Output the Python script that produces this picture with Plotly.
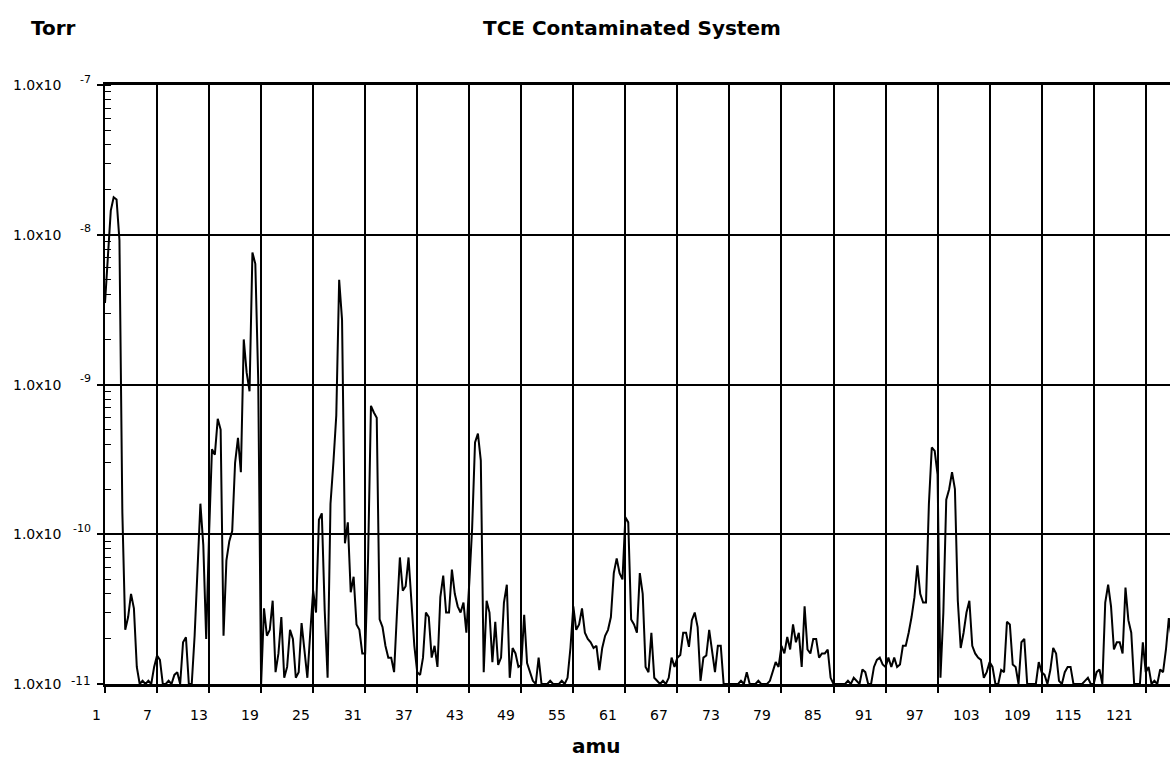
import numpy as np
import plotly.graph_objects as go

# Partial-pressure scan of a TCE contaminated vacuum system.
# Three readings per amu (at m, m+1/3, m+2/3), stored in units of 1e-11 Torr.
UNIT_TORR = 1e-11

scan_amu_01_20 = [
    350, 700, 1450,   1780, 1720, 920,   14, 2.3, 2.8,    4.0, 3.2, 1.3,
    1.0, 1.05, 1.0,   1.05, 1.0, 1.3,    1.55, 1.45, 1.0, 1.0, 1.05, 1.0,
    1.15, 1.2, 1.0,   1.9, 2.05, 1.0,    1.0, 2.1, 6.5,   16, 8.5, 2.0,
    10, 37, 34,       59, 50, 2.1,       6.7, 9.0, 10.5,  30, 44, 26,
    200, 120, 90,     760, 640, 107,     1.0, 3.2, 2.1,   2.3, 3.6, 1.2,
]
scan_amu_21_40 = [
    1.6, 2.8, 1.1,    1.3, 2.3, 2.0,     1.1, 1.2, 2.55,  1.6, 1.1, 2.2,
    4.2, 3.0, 12.5,   13.8, 3.1, 1.1,    16, 30, 62,      500, 270, 8.7,
    12, 4.1, 5.2,     2.5, 2.3, 1.6,     1.6, 6.9, 72,    65, 60, 2.7,
    2.4, 1.8, 1.5,    1.5, 1.2, 3.0,     7.0, 4.2, 4.5,   7.0, 3.3, 1.8,
    1.2, 1.15, 1.5,   3.0, 2.8, 1.5,     1.8, 1.3, 3.8,   5.3, 3.0, 3.0,
]
scan_amu_41_60 = [
    5.8, 4.0, 3.3,    3.0, 3.5, 2.2,     4.7, 11, 41,     47, 31, 1.2,
    3.6, 3.0, 1.4,    2.6, 1.34, 1.5,    3.5, 4.6, 1.1,   1.74, 1.6, 1.3,
    1.34, 2.9, 1.38,  1.2, 1.05, 1.0,    1.5, 1.0, 1.0,   1.0, 1.05, 1.0,
    1.0, 1.0, 1.05,   1.0, 1.1, 1.74,    3.3, 2.3, 2.5,   3.2, 2.2, 2.0,
    1.9, 1.74, 1.8,   1.24, 1.74, 2.1,   2.3, 2.8, 5.5,   6.9, 5.5, 5.0,
]
scan_amu_61_80 = [
    13, 12, 2.7,      2.5, 2.2, 5.5,     4.0, 1.3, 1.2,   2.2, 1.1, 1.05,
    1.0, 1.05, 1.0,   1.1, 1.5, 1.3,     1.5, 1.56, 2.2,  2.2, 1.77, 2.67,
    3.0, 2.4, 1.05,   1.5, 1.55, 2.3,    1.7, 1.2, 1.8,   1.8, 1.0, 1.0,
    1.0, 1.0, 1.0,    1.0, 1.05, 1.0,    1.2, 1.0, 1.0,   1.0, 1.05, 1.0,
    1.0, 1.0, 1.05,   1.2, 1.4, 1.3,     1.8, 1.6, 2.06,  1.7, 2.5, 1.9,
]
scan_amu_81_100 = [
    2.2, 1.3, 3.3,    1.7, 1.6, 2.0,     2.0, 1.5, 1.6,   1.6, 1.7, 1.1,
    1.0, 1.0, 1.0,    1.0, 1.0, 1.05,    1.0, 1.1, 1.05,  1.0, 1.25, 1.2,
    1.0, 1.0, 1.3,    1.45, 1.5, 1.35,   1.3, 1.5, 1.3,   1.5, 1.3, 1.35,
    1.8, 1.8, 2.2,    2.8, 3.8, 6.2,     4.0, 3.5, 3.5,   16, 38, 36,
    25, 1.1, 3.0,     17, 20, 26,        20, 3.6, 1.74,   2.2, 3.0, 3.6,
]
scan_amu_101_124 = [
    1.8, 1.6, 1.5,    1.45, 1.1, 1.2,    1.4, 1.3, 1.0,   1.0, 1.24, 1.2,
    2.6, 2.5, 1.35,   1.3, 1.0, 1.9,     2.0, 1.0, 1.0,   1.0, 1.0, 1.4,
    1.2, 1.15, 1.0,   1.24, 1.74, 1.6,   1.05, 1.0, 1.2,  1.3, 1.3, 1.0,
    1.0, 1.0, 1.0,    1.05, 1.1, 1.0,    1.0, 1.2, 1.25,  1.0, 3.5, 4.6,
    3.3, 1.7, 1.9,    1.9, 1.6, 4.4,     2.67, 2.2, 1.0,  1.0, 1.0, 1.9,
    1.2, 1.3, 1.0,    1.05, 1.0, 1.25,   1.2, 1.7, 2.75,  2.0,
]

readings = (scan_amu_01_20 + scan_amu_21_40 + scan_amu_41_60
            + scan_amu_61_80 + scan_amu_81_100 + scan_amu_101_124)
pressure_torr = np.array(readings, dtype=float) * UNIT_TORR
mass_amu = 1 + np.arange(len(readings)) / 3.0

# Axis annotations
grid_amu = list(range(1, 122, 6))                  # 1, 7, ..., 121
amu_labels = [str(v) for v in grid_amu]
decades = [-7, -8, -9, -10, -11]
exponent_labels = ["-7", "-8", "-9", "-10", "-11"]

W, H = 1170, 765
L, R, T, B = 105, 0, 85, 81
PW, PH = W - L - R, H - T - B
FONT = "DejaVu Sans"


def fx(px):
    return (px - L) / PW


def fy(py):
    return (H - B - py) / PH


fig = go.Figure()
fig.add_trace(go.Scatter(
    x=mass_amu, y=pressure_torr, mode="lines",
    line=dict(color="black", width=2),
    hoverinfo="skip", showlegend=False,
))

annotations = []
# amu labels: spaced ~51.2 px apart, a little tighter than the 52 px grid
for k, lab in enumerate(amu_labels):
    annotations.append(dict(
        xref="paper", yref="paper", x=fx(96.7 + 51.16 * k), y=fy(715),
        text=lab, showarrow=False, xanchor="center", yanchor="middle",
        font=dict(family=FONT, size=14, color="black"),
    ))
# Torr tick labels, "1.0x10" with a raised exponent
for d, ex in zip(decades, exponent_labels):
    annotations.append(dict(
        xref="paper", yref="y", x=fx(11), y=d, text="1.0x10",
        showarrow=False, xanchor="left", yanchor="middle",
        font=dict(family=FONT, size=14, color="black"),
    ))
    annotations.append(dict(
        xref="paper", yref="y", x=fx(93), y=d, text=ex,
        showarrow=False, xanchor="right", yanchor="middle",
        yshift=6 if d != -11 else 3,
        font=dict(family=FONT, size=11 if d != -11 else 12, color="black"),
    ))
annotations += [
    dict(xref="paper", yref="paper", x=fx(632), y=fy(28),
         text="<b>TCE Contaminated System</b>", showarrow=False,
         xanchor="center", yanchor="middle",
         font=dict(family=FONT, size=20, color="black")),
    dict(xref="paper", yref="paper", x=fx(53), y=fy(28),
         text="<b>Torr</b>", showarrow=False,
         xanchor="center", yanchor="middle",
         font=dict(family=FONT, size=20, color="black")),
    dict(xref="paper", yref="paper", x=fx(596), y=fy(746),
         text="<b>amu</b>", showarrow=False,
         xanchor="center", yanchor="middle",
         font=dict(family=FONT, size=20, color="black")),
]

fig.update_layout(
    width=W, height=H,
    margin=dict(l=L, r=R, t=T, b=B, pad=0),
    paper_bgcolor="white", plot_bgcolor="white",
    showlegend=False,
    annotations=annotations,
    xaxis=dict(
        range=[1, 123.8], tickmode="array", tickvals=grid_amu,
        showticklabels=False, ticks="outside", ticklen=6, tickwidth=1.5,
        tickcolor="black", showgrid=True, gridcolor="black", gridwidth=2,
        showline=True, linecolor="black", linewidth=3, mirror=True,
        zeroline=False, fixedrange=True,
    ),
    yaxis=dict(
        type="log", range=[-11, -7], dtick=1,
        showticklabels=False, ticks="outside", ticklen=6, tickwidth=1.5,
        tickcolor="black", showgrid=True, gridcolor="black", gridwidth=2,
        showline=True, linecolor="black", linewidth=2,
        zeroline=False, fixedrange=True,
        minor=dict(ticks="inside", ticklen=6, tickwidth=1.2,
                   tickcolor="black", showgrid=False),
    ),
)

fig.write_html("out.html")
